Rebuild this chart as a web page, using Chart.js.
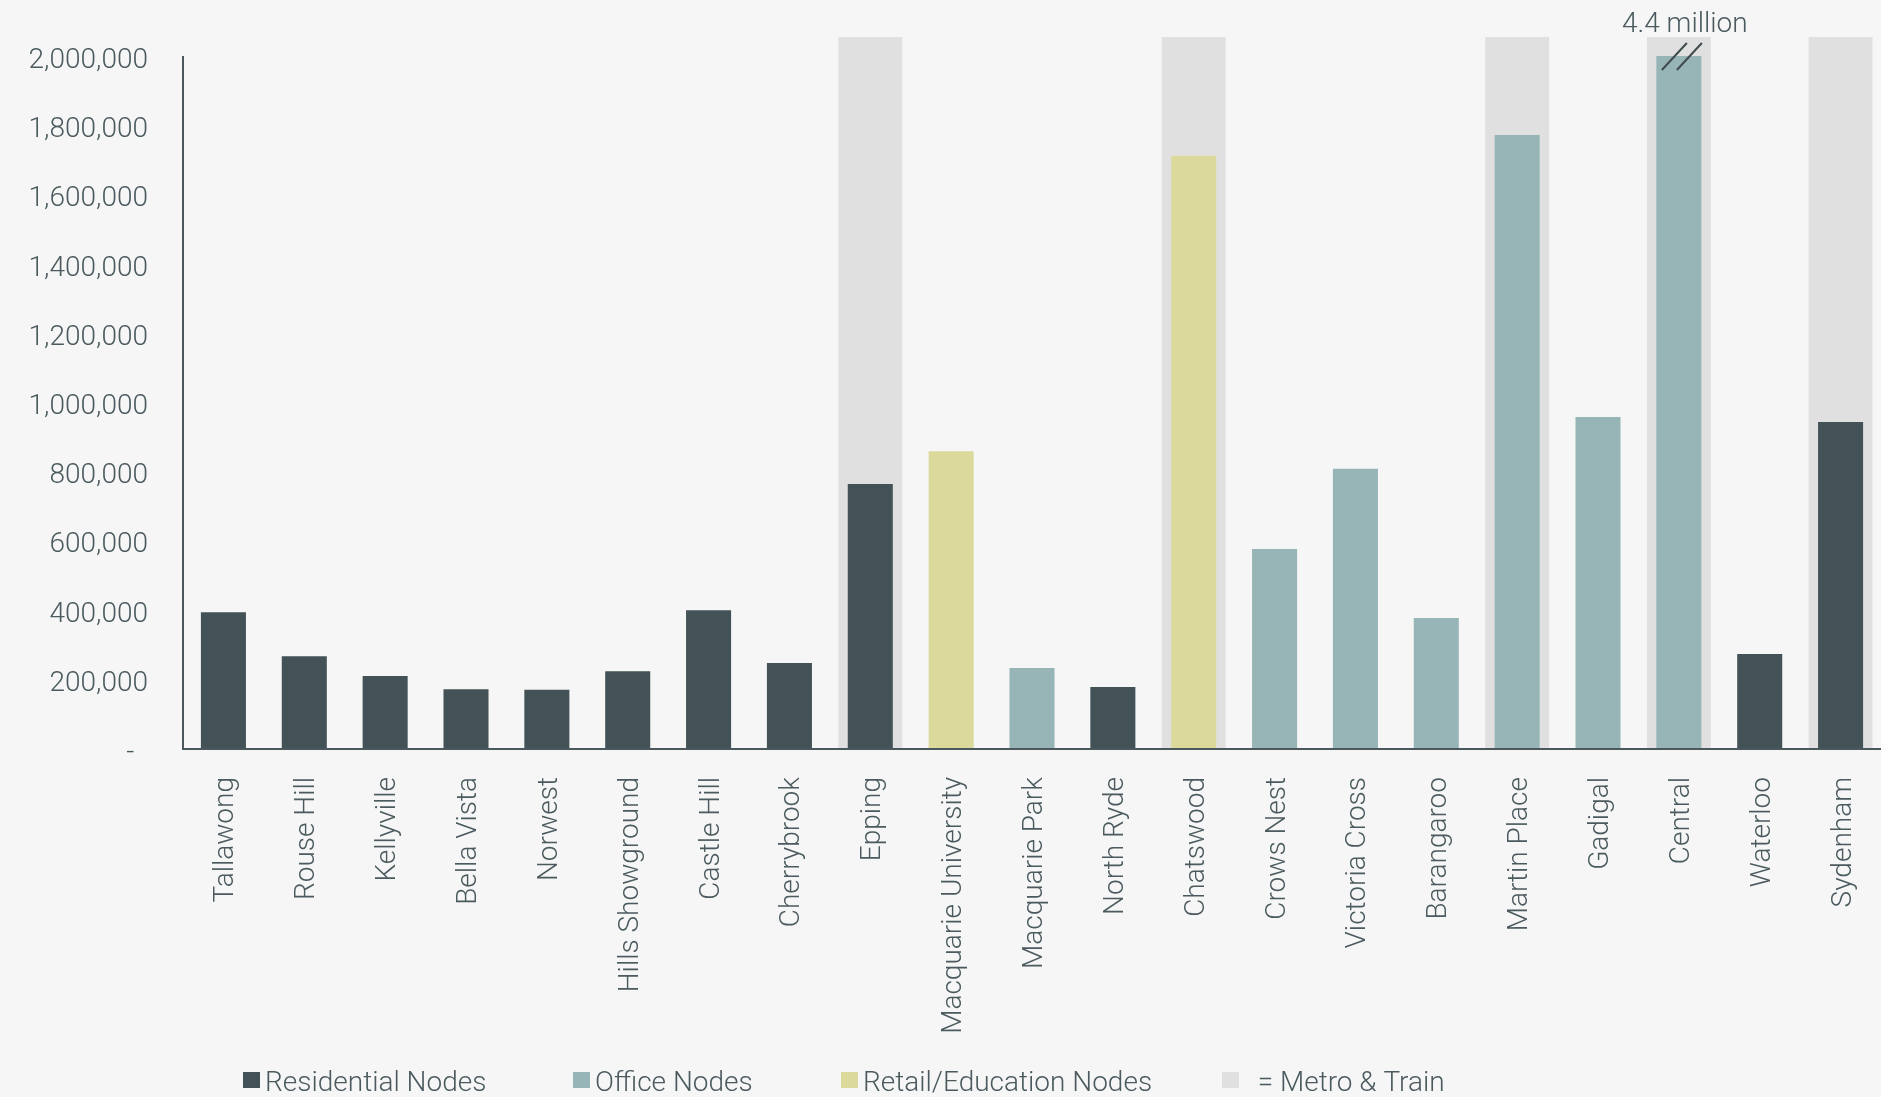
<!DOCTYPE html>
<html>
<head>
<meta charset="utf-8">
<title>Station patronage by node type</title>
<script src="https://cdn.jsdelivr.net/npm/chart.js@4.4.1/dist/chart.umd.min.js"></script>
<style>
  html, body { margin: 0; padding: 0; background: #f6f6f6; }
  #wrap { position: relative; width: 1881px; height: 1097px; }
</style>
</head>
<body>
<div id="wrap"><canvas id="chartNodes"></canvas></div>
<script>
// ---- data ----
const stations = ['Tallawong','Rouse Hill','Kellyville','Bella Vista','Norwest','Hills Showground',
  'Castle Hill','Cherrybrook','Epping','Macquarie University','Macquarie Park','North Ryde',
  'Chatswood','Crows Nest','Victoria Cross','Barangaroo','Martin Place','Gadigal','Central',
  'Waterloo','Sydenham'];
const patronage = [392000, 265000, 208000, 170000, 168000, 222000,
  398000, 246000, 763000, 858000, 231000, 176000,
  1712000, 575000, 807000, 376000, 1772000, 957000, 4400000,
  272000, 942000];
// R = residential, O = office, E = retail / education
const nodeType = ['R','R','R','R','R','R','R','R','R','E','O','R','E','O','O','O','O','O','O','R','R'];
const metroAndTrain = ['Epping','Chatswood','Martin Place','Central','Sydenham'];
const yTicks = [0, 200000, 400000, 600000, 800000, 1000000, 1200000, 1400000, 1600000, 1800000, 2000000];
const yTicksMax = yTicks[yTicks.length - 1];

// ---- look ----
const C = { res:'#435256', office:'#97b4b6', retail:'#dbd99b', band:'#e0e0e0', text:'#4a5a5e', axis:'#4a585c' };
const FONT = { family:'Roboto', size:28, weight:'300' };
const Y_TOP = 2055000;          // top of the plot area (band height)
const typeColor = { R:C.res, O:C.office, E:C.retail };

const legendItems = [
  { text:'Residential Nodes', color:C.res },
  { text:'Office Nodes', color:C.office },
  { text:'Retail/Education Nodes', color:C.retail },
  { text:'  = Metro & Train', color:C.band },
];
const LEGEND_X = [243, 573, 841, 1222];

// bars above the axis top are cut, marked with // and labelled
const shownValues = patronage.map(v => Math.min(v, yTicksMax));
const bandValues = stations.map(s => metroAndTrain.includes(s) ? Y_TOP : null);

const extrasPlugin = {
  id: 'extras',
  afterDatasetsDraw(chart) {
    const { ctx, chartArea, scales:{ y } } = chart;
    ctx.save();
    // axis lines
    const y0 = y.getPixelForValue(0) + 1;
    ctx.strokeStyle = C.axis;
    ctx.lineWidth = 2;
    ctx.beginPath();
    ctx.moveTo(chartArea.left, y.getPixelForValue(yTicksMax));
    ctx.lineTo(chartArea.left, y0);
    ctx.lineTo(chartArea.right, y0);
    ctx.stroke();

    // broken bars
    const meta = chart.getDatasetMeta(0);
    patronage.forEach((v, i) => {
      if (v <= yTicksMax) return;
      const bar = meta.data[i];
      ctx.strokeStyle = '#3f4b4f';
      ctx.lineWidth = 2;
      ctx.beginPath();
      [-4.5, 10.5].forEach(off => {
        ctx.moveTo(bar.x + off - 12.5, bar.y + 14);
        ctx.lineTo(bar.x + off + 12.5, bar.y - 13);
      });
      ctx.stroke();
      ctx.fillStyle = C.text;
      ctx.font = `${FONT.weight} ${FONT.size}px ${FONT.family}`;
      ctx.textAlign = 'center';
      ctx.textBaseline = 'alphabetic';
      ctx.fillText((v / 1e6).toFixed(1) + ' million', bar.x + 6, bar.y - 24);
    });
    ctx.restore();
  },
  afterDraw(chart) {
    const ctx = chart.ctx;
    ctx.save();
    ctx.font = `${FONT.weight} ${FONT.size}px ${FONT.family}`;
    ctx.textBaseline = 'alphabetic';
    ctx.textAlign = 'left';
    legendItems.forEach((it, i) => {
      const bx = LEGEND_X[i];
      ctx.fillStyle = it.color;
      ctx.fillRect(bx, 1072, 17, 16);
      ctx.fillStyle = C.text;
      ctx.fillText(it.text, bx + 22, 1091);
    });
    ctx.restore();
  }
};

const ctx = document.getElementById('chartNodes').getContext('2d');
new Chart(ctx, {
  type: 'bar',
  data: {
    labels: stations,
    datasets: [
      { label:'Nodes', data:shownValues, backgroundColor:nodeType.map(t => typeColor[t]),
        barPercentage:0.557, categoryPercentage:1, grouped:false, order:1 },
      { label:'Metro & Train', data:bandValues, backgroundColor:C.band,
        barPercentage:0.79, categoryPercentage:1, grouped:false, order:2 },
    ]
  },
  options: {
    responsive: true, maintainAspectRatio: false, animation: false,
    layout: { padding: { top:37, right:0, left:0, bottom:0 } },
    plugins: { legend:{ display:false }, tooltip:{ enabled:false } },
    scales: {
      x: {
        grid:{ display:false, drawTicks:false }, border:{ display:false },
        afterFit: s => { s.height = 349; s.paddingLeft = 0; s.paddingRight = 0; },
        ticks:{ color:C.text, font:FONT, padding:29, labelOffset:3,
          minRotation:90, maxRotation:90, autoSkip:false }
      },
      y: {
        min:0, max:Y_TOP,
        grid:{ display:false, drawTicks:false }, border:{ display:false },
        afterBuildTicks: s => { s.ticks = yTicks.map(v => ({ value:v })); },
        afterFit: s => { s.width = 183; s.paddingTop = 0; s.paddingBottom = 0; },
        ticks:{ color:C.text, font:FONT, padding:35, labelOffset:5,
          callback: v => v === 0 ? '-  ' : v.toLocaleString('en-US') }
      }
    }
  },
  plugins: [extrasPlugin]
});
</script>
</body>
</html>
